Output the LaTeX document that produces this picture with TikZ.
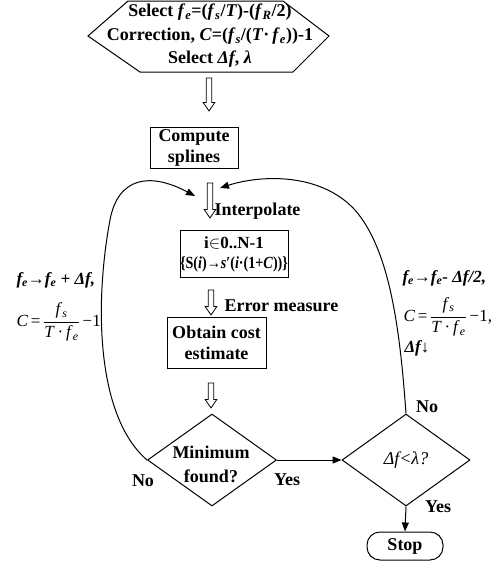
\documentclass[tikz,border=0pt]{standalone}
\usepackage{fontspec}
\setmainfont{Liberation Serif}
\usetikzlibrary{shapes.geometric,arrows.meta}
\newcommand\vv[2]{\textit{#1}\textsubscript{\textit{#2}}}
\newcommand\myfrac[2]{$\displaystyle{\hbox{#1}\over\hbox{#2}}$}
% hollow arrow: x, top y, bottom y
\newcommand\harrow[3]{\draw[line width=0.8pt, line join=miter]
  (#1-2.8,#2) -- (#1-2.8,#3-8.5) -- (#1-5.8,#3-8.5) -- (#1,#3) -- (#1+5.8,#3-8.5)
  -- (#1+2.8,#3-8.5) -- (#1+2.8,#2) -- cycle;}
\begin{document}
\begin{tikzpicture}[x=1pt,y=-1pt, line width=1pt,
  every node/.style={font=\fontsize{18}{21}\selectfont\bfseries, inner sep=0pt},
  boxnode/.style={draw, rectangle, align=center},
  decision/.style={draw, diamond, align=center, inner sep=0pt},
  tip/.style={-{Triangle[length=9pt,width=7pt]}}]
\useasboundingbox (0,0) rectangle (503,562);

% hexagon
\draw (88,36)--(128,1)--(283,1)--(329,36)--(293,72)--(140,72)--cycle;
\node[align=center, font=\fontsize{18}{23.5}\selectfont\bfseries] (hex) at (210,36)
  {Select \vv fe=(\vv fs/\textit{T})-(\vv fR/2)\\
   Correction, \textit{C}=(\vv fs/(\textit{T}·\,\vv fe))-1\\
   Select \textit{Δf}, \textit{λ}};

% boxes
\node[boxnode, minimum width=88pt, minimum height=41pt] (cs) at (194,147.5) {Compute\\splines};
\node[boxnode, minimum width=108pt, minimum height=47pt, font=\fontsize{17}{20}\selectfont\bfseries] (ip) at (234,254)
  {i$\in$0..N-1\\\scalebox{0.83}[1]{\{S(\textit{i})→\textit{s}′(\textit{i}·(1+\textit{C}))\}}};
\node[boxnode, minimum width=99pt, minimum height=51pt] (oc) at (216.5,342.5) {Obtain cost\\estimate};

% decisions
\node[decision, minimum width=129pt, minimum height=92pt] (m1) at (212,460) {};
\node[align=center, font=\fontsize{18}{24}\selectfont\bfseries] (m1t) at (211,464) {Minimum\\found?};
\node[decision, minimum width=128pt, minimum height=92pt] (m2) at (406,460) {};
\node[font=\fontsize{18}{21}\selectfont\itshape] (m2t) at (406,460) {Δf<λ?};

% stop
\node[draw, rectangle, rounded corners=13pt, minimum width=76pt, minimum height=28pt] (stop) at (405,546) {Stop};

% hollow arrows
\harrow{209}{78}{111}
\harrow{210}{183}{218}
\harrow{211}{290}{315}
\harrow{211}{383}{408}

% labels
\node[anchor=west] (lint) at (214,211) {Interpolate};
\node[anchor=west] (lerr) at (224,306) {Error measure};
\node (no1) at (143,481) {No};
\node (yes1) at (287,480) {Yes};
\node (no2) at (427,407) {No};
\node (yes2) at (438,507) {Yes};

\node[anchor=west, font=\fontsize{17}{21}\selectfont\bfseries] (ll1) at (16,280) {\itshape \vv fe→\vv fe + Δf,};
\node[anchor=west, font=\fontsize{17}{21}\selectfont] (ll2) at (16,322)
  {\textit{C}\,=\,\myfrac{\vv fs}{\textit{T}\,·\,\vv fe}\,−1};

\node[anchor=west, font=\fontsize{17}{21}\selectfont\bfseries] (rl1) at (402,278) {\itshape \vv fe→\vv fe- Δf/2,};
\node[anchor=west, font=\fontsize{17}{21}\selectfont] (rl2) at (403,317)
  {\textit{C}\,=\,\myfrac{\vv fs}{\textit{T}\,·\,\vv fe}\,−1,};
\node[anchor=west, font=\fontsize{17}{21}\selectfont\bfseries] (rl3) at (404,348) {\itshape Δf↓};

% connectors
\coordinate (lt) at (195,196);
\coordinate (rt) at (220,188);
\draw[tip] (m1.east) -- (m2.west);
\draw[tip] (m2.south) -- (stop.north);
\draw[tip] (m1.west) .. controls (95,415) and (95,300) .. (110,220)
  .. controls (118,177) and (150,172) .. (lt);
\draw[tip] (m2.north) .. controls (400,330) and (390,250) .. (355,210)
  .. controls (320,172) and (260,175) .. (rt);
\end{tikzpicture}
\end{document}
